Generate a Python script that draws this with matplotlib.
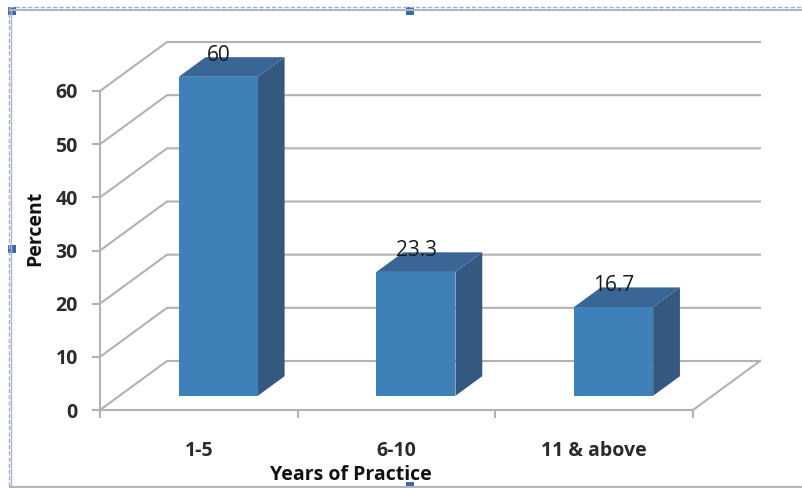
import matplotlib
matplotlib.use('Agg')
import matplotlib.pyplot as plt
from matplotlib.patches import Polygon, Rectangle

categories = ['1-5', '6-10', '11 & above']
percent = [60, 23.3, 16.7]
value_labels = ['60', '23.3', '16.7']
y_ticks = [0, 10, 20, 30, 40, 50, 60]

W, H = 802, 488
fig = plt.figure(figsize=(W / 100, H / 100), dpi=100)

# plot box of the front plane, in pixels
left, right, top, bottom = 100, 693, 91, 410
ax = fig.add_axes([left / W, 1 - bottom / H, (right - left) / W, (bottom - top) / H])
ax.set_xlim(0, 3)
ax.set_ylim(0, 60)
ax.patch.set_visible(False)

# oblique depth: how far the back wall sits from the front plane, in data units
depth_x = 67 / ((right - left) / 3)
depth_y = 49 / ((bottom - top) / 60)


def proj(x, y, d):
    return (x + d * depth_x, y + d * depth_y)


grid_col = '#b2b2b2'
for v in y_ticks:
    p0 = proj(0, v, 0)
    p1 = proj(0, v, 1)
    p2 = proj(3, v, 1)
    ax.plot([p0[0], p1[0], p2[0]], [p0[1], p1[1], p2[1]], color=grid_col, lw=1.5, clip_on=False, zorder=1)

# right edge of the floor
p0 = proj(3, 0, 0)
p1 = proj(3, 0, 1)
ax.plot([p0[0], p1[0]], [p0[1], p1[1]], color=grid_col, lw=1.5, clip_on=False, zorder=1)

# bars
bar_w = 0.4
d_front = 0.29
d_back = 0.69
for i, val in enumerate(percent):
    x0 = i + 0.5 - bar_w / 2
    x1 = x0 + bar_w
    front = [proj(x0, 0, d_front), proj(x1, 0, d_front), proj(x1, val, d_front), proj(x0, val, d_front)]
    side = [proj(x1, 0, d_front), proj(x1, 0, d_back), proj(x1, val, d_back), proj(x1, val, d_front)]
    cap = [proj(x0, val, d_front), proj(x1, val, d_front), proj(x1, val, d_back), proj(x0, val, d_back)]
    ax.add_patch(Polygon(side, closed=True, fc='#34587f', ec='none', clip_on=False, zorder=2))
    ax.add_patch(Polygon(cap, closed=True, fc='#3a6696', ec='none', clip_on=False, zorder=2))
    ax.add_patch(Polygon(front, closed=True, fc='#3d81b8', ec='none', clip_on=False, zorder=3))
    lx, ly = proj(i + 0.5, val, d_back)
    ax.text(lx - 0.135, ly + 0.4, value_labels[i], ha='center', va='center', fontsize=15,
            color='#1a1a1a', clip_on=False, zorder=4, family='Open Sans')

for s in ['top', 'right']:
    ax.spines[s].set_visible(False)
ax.spines['left'].set_color(grid_col)
ax.spines['bottom'].set_color(grid_col)
ax.spines['left'].set_linewidth(1.5)
ax.spines['bottom'].set_linewidth(1.5)

ax.set_yticks(y_ticks)
ax.set_xticks([0, 1, 2, 3])
ax.set_xticklabels([])
ax.set_xticks([0.5, 1.5, 2.5], categories, minor=True)
ax.tick_params(axis='both', which='major', length=6, width=1.5, color=grid_col)
ax.tick_params(axis='x', which='minor', length=0, pad=22)
ax.tick_params(axis='y', pad=10)
for lab in ax.get_yticklabels() + ax.get_xticklabels(minor=True):
    lab.set_family('Open Sans')
    lab.set_fontweight('bold')
    lab.set_fontsize(14)
    lab.set_color('#2b2b2b')

fig.text(351 / W, 1 - 475 / H, 'Years of Practice', ha='center', va='center', fontsize=14,
         fontweight='bold', family='Open Sans', color='#111111')
fig.text(35 / W, 1 - 228 / H, 'Percent', rotation=90, ha='center', va='center', fontsize=14,
         fontweight='bold', family='Open Sans', color='#111111')

# outer frame with its selection handles
frame = fig.add_axes([0, 0, 1, 1], zorder=5)
frame.set_xlim(0, W)
frame.set_ylim(H, 0)
frame.axis('off')
frame.patch.set_visible(False)
frame.plot([10, W], [10, 10], color='#b5b5b5', lw=1.5)
frame.plot([10, W], [487, 487], color='#b5b5b5', lw=1.5)
frame.plot([11, 11], [10, 487], color='#b5b5b5', lw=1)
frame.plot([9, 9], [7, 487], color='#8ab4ea', lw=1, ls=(0, (3, 1.5)))
frame.plot([9, W], [7, 7], color='#8ab4ea', lw=1, ls=(0, (3, 1.5)))
for hx, hy in [(12, 11), (410, 11), (12, 249), (410, 486)]:
    frame.add_patch(Rectangle((hx - 4, hy - 4), 8, 8, fc='#3c68a8', ec='none'))

fig.savefig('out.png', dpi=100)
